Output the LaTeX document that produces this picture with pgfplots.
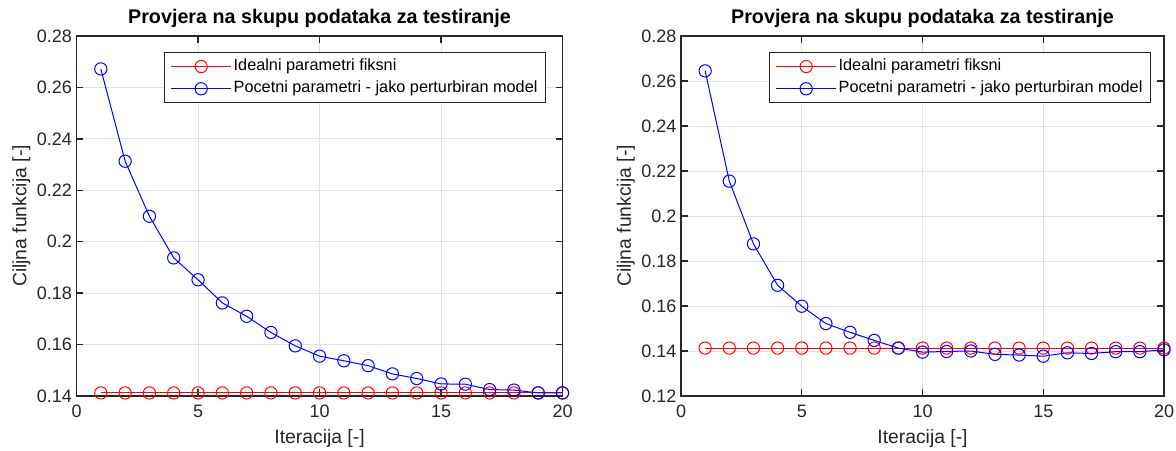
\documentclass[border=0pt]{standalone}
\usepackage{fontspec}
\setmainfont{Liberation Sans}
\usepackage{pgfplots}
\usepackage{pgfplotstable}
\pgfplotsset{compat=1.18}
\definecolor{axgray}{RGB}{38,38,38}
\definecolor{gridgray}{RGB}{224,224,224}
\definecolor{mred}{RGB}{255,0,0}
\definecolor{mblue}{RGB}{0,0,255}

\pgfplotstableread{
x y
1 0.1412
2 0.1412
3 0.1412
4 0.1412
5 0.1412
6 0.1412
7 0.1412
8 0.1412
9 0.1412
10 0.1412
11 0.1412
12 0.1412
13 0.1412
14 0.1412
15 0.1412
16 0.1412
17 0.1412
18 0.1412
19 0.1412
20 0.1412
}\leftred
\pgfplotstableread{
x y
1 0.2672
2 0.2313
3 0.2099
4 0.1937
5 0.1852
6 0.1762
7 0.1710
8 0.1647
9 0.1595
10 0.1555
11 0.1537
12 0.1518
13 0.1486
14 0.1468
15 0.1447
16 0.1446
17 0.1425
18 0.1423
19 0.1412
20 0.1412
}\leftblue
\pgfplotstableread{
x y
1 0.1413
2 0.1413
3 0.1413
4 0.1413
5 0.1413
6 0.1413
7 0.1413
8 0.1413
9 0.1413
10 0.1413
11 0.1413
12 0.1413
13 0.1413
14 0.1413
15 0.1413
16 0.1413
17 0.1413
18 0.1413
19 0.1413
20 0.1413
}\rightred
\pgfplotstableread{
x y
1 0.2645
2 0.2155
3 0.1876
4 0.1692
5 0.1599
6 0.1522
7 0.1483
8 0.1447
9 0.1413
10 0.1395
11 0.1398
12 0.1400
13 0.1385
14 0.1382
15 0.1377
16 0.1392
17 0.1389
18 0.1397
19 0.1397
20 0.1405
}\rightblue

\pgfplotsset{
  mystyle/.style={
    scale only axis, width=364.5pt, height=270pt,
    xmin=0, xmax=20, xtick={0,5,10,15,20},
    grid=major, major grid style={gridgray, line width=0.6pt},
    axis line style={axgray, line width=1.1pt},
    tick style={axgray, line width=1.1pt},
    major tick length=5pt,
    tick align=inside,
    ticklabel style={font=\fontsize{13.5}{15}\selectfont, text=axgray},
    x tick label style={yshift=-3pt},
    /pgf/number format/assume math mode=true,
    y tick label style={/pgf/number format/fixed, /pgf/number format/precision=2},
    scaled y ticks=false,
    label style={font=\fontsize{14.5}{16}\selectfont, text=axgray},
    xlabel style={yshift=-2.5pt},
    ylabel style={yshift=-2pt},
    title style={font=\bfseries\fontsize{14.8}{16}\selectfont, yshift=-3pt},
    title={Provjera na skupu podataka za testiranje},
    xlabel={Iteracija [-]}, ylabel={Ciljna funkcija [-]},
    clip=false,
    legend cell align=left,
    legend style={anchor=north east, draw=axgray, line width=0.8pt,
      font=\fontsize{12.2}{14}\selectfont, inner xsep=4.5pt, inner ysep=3pt,
      row sep=2pt,
      nodes={inner sep=1.5pt, text height=9pt, text depth=2.7pt}},
    legend image code/.code={\draw[mark repeat=2, mark phase=2, #1] plot coordinates {(0pt,0pt) (22.5pt,0pt) (45pt,0pt)};},
    every axis plot/.append style={line width=0.75pt, mark=o, mark size=4.6pt},
  }
}

\begin{document}
\begin{tikzpicture}
\useasboundingbox (0,0) rectangle (882pt,337.5pt);
\begin{axis}[mystyle, at={(57.4pt,40.5pt)}, anchor=south west,
  ymin=0.14, ymax=0.28, ytick={0.14,0.16,...,0.28},
  legend style={at={(0.966,0.955)}}]
\addplot[mred] table[x=x,y=y] {\leftred};
\addlegendentry{Idealni parametri fiksni}
\addplot[mblue] table[x=x,y=y] {\leftblue};
\addlegendentry{Pocetni parametri - jako perturbiran model}
\end{axis}
\begin{axis}[mystyle, at={(510.75pt,40.5pt)}, anchor=south west, width=362.25pt,
  ymin=0.12, ymax=0.28, ytick={0.12,0.14,...,0.28},
  legend style={at={(0.973,0.955)}}]
\addplot[mred] table[x=x,y=y] {\rightred};
\addlegendentry{Idealni parametri fiksni}
\addplot[mblue] table[x=x,y=y] {\rightblue};
\addlegendentry{Pocetni parametri - jako perturbiran model}
\end{axis}
\end{tikzpicture}
\end{document}
